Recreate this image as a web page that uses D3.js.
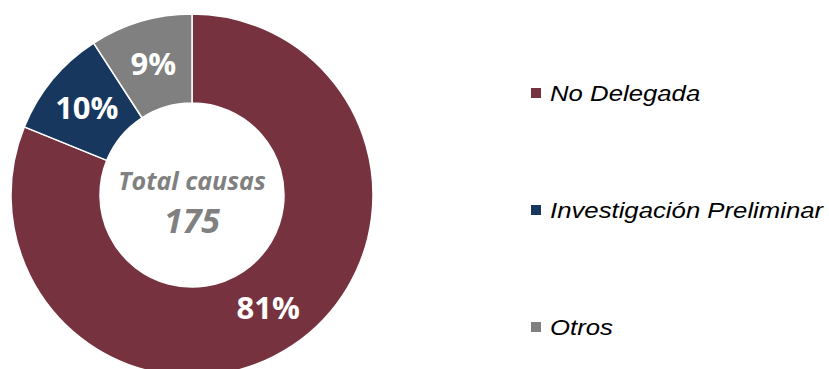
<!DOCTYPE html>
<html>
<head>
<meta charset="utf-8">
<script src="https://cdn.jsdelivr.net/npm/d3@7"></script>
<style>
  html, body { margin: 0; padding: 0; background: #fff; }
  svg { display: block; }
</style>
</head>
<body>
<div id="chart"></div>
<script>
// Datos de la gráfica (causas por estado)
const categories = ["No Delegada", "Investigación Preliminar", "Otros"];
const values = [142, 17, 16];
const colors = ["#76333f", "#17375e", "#808080"];
const totalLabel = "Total causas";

const width = 829, height = 369;
const cx = 192, cy = 195;
const outerR = 181, innerR = 92;

const svg = d3.select("#chart")
    .append("svg")
    .attr("width", width)
    .attr("height", height);

const total = d3.sum(values);
const data = categories.map((c, i) => ({ name: c, value: values[i], color: colors[i] }));

// Orden original: empieza arriba y gira en sentido horario
const pie = d3.pie().sort(null).value(d => d.value);
const arc = d3.arc().innerRadius(innerR).outerRadius(outerR);

const g = svg.append("g").attr("transform", `translate(${cx},${cy})`);

const arcs = g.selectAll("g.slice")
    .data(pie(data))
    .enter().append("g")
    .attr("class", "slice");

arcs.append("path")
    .attr("d", arc)
    .attr("fill", d => d.data.color)
    .attr("stroke", "#fff")
    .attr("stroke-width", 1.5);

// Etiquetas de porcentaje
arcs.append("text")
    .attr("transform", d => {
        const [x, y] = arc.centroid(d);
        return `translate(${x},${y})`;
    })
    .attr("text-anchor", "middle")
    .attr("dy", "0.36em")
    .style("fill", "#fff")
    .style("font-family", "'Open Sans', sans-serif")
    .style("font-weight", "700")
    .style("font-size", "31px")
    .text(d => `${Math.round(d.data.value / total * 100)}%`);

// Texto central
g.append("text")
    .attr("text-anchor", "middle")
    .attr("y", -5)
    .style("fill", "#808080")
    .style("font-family", "'Open Sans', sans-serif")
    .style("font-weight", "700")
    .style("font-style", "italic")
    .style("font-size", "25px")
    .text(totalLabel);

g.append("text")
    .attr("text-anchor", "middle")
    .attr("y", 38)
    .style("fill", "#808080")
    .style("font-family", "'Open Sans', sans-serif")
    .style("font-weight", "700")
    .style("font-style", "italic")
    .style("font-size", "34px")
    .text(total);

// Leyenda
const legendY = d3.scalePoint().domain(categories).range([93, 327]);

const legend = svg.append("g").attr("transform", "translate(531,0)");
const rows = legend.selectAll("g")
    .data(data)
    .enter().append("g")
    .attr("transform", d => `translate(0,${legendY(d.name)})`);

rows.append("rect")
    .attr("x", 0)
    .attr("y", -5)
    .attr("width", 10)
    .attr("height", 10)
    .attr("fill", d => d.color);

// El texto de la leyenda aparece algo ensanchado horizontalmente
rows.append("text")
    .attr("transform", "translate(19,8) scale(1.17,1)")
    .style("fill", "#000")
    .style("font-family", "'Liberation Sans', Arial, sans-serif")
    .style("font-style", "italic")
    .style("font-size", "22px")
    .text(d => d.name);
</script>
</body>
</html>
